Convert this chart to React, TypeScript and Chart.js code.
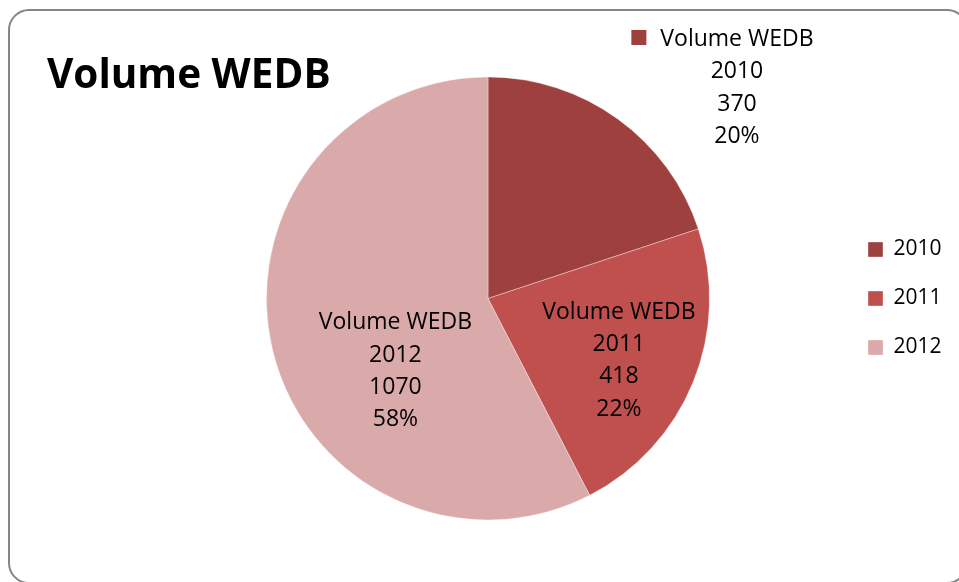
import React, { useEffect, useRef } from "react";
import { Chart, registerables } from "chart.js";

Chart.register(...registerables);

const chartTitle = "Volume WEDB";
const seriesName = "Volume WEDB";
const categories = ["2010", "2011", "2012"];
const values = [370, 418, 1070];
const sliceColors = ["#9E413E", "#C0504D", "#DAA9A9"];

const FONT = '"Open Sans", "Noto Sans", sans-serif';

// label placement relative to the pie centre, in units of the pie radius
const labelPlacement = [
  { dx: 1.124, dy: -1.14, key: true },
  { dx: 0.591, dy: 0.091, key: false },
  { dx: -0.418, dy: 0.139, key: false },
];
const LABEL_SIZE = 23;
const LABEL_LINE = 32.3;

const decorPlugin = {
  id: "decor",
  beforeDraw(chart: any) {
    const ctx = chart.ctx;
    ctx.save();
    ctx.fillStyle = "#ffffff";
    ctx.fillRect(0, 0, chart.width, chart.height);
    ctx.strokeStyle = "#868686";
    ctx.lineWidth = 2;
    ctx.beginPath();
    ctx.roundRect(9, 10, 958, 573, 20);
    ctx.stroke();
    ctx.fillStyle = "#000000";
    ctx.font = `bold 40.5px ${FONT}`;
    ctx.textAlign = "left";
    ctx.textBaseline = "alphabetic";
    ctx.fillText(chartTitle, 47, 88);
    ctx.restore();
  },
  afterDatasetsDraw(chart: any) {
    const ctx = chart.ctx;
    const meta = chart.getDatasetMeta(0);
    const ds = chart.data.datasets[0];
    const data = ds.data as number[];
    const total = data.reduce((a, b) => a + b, 0);
    ctx.save();
    ctx.font = `${LABEL_SIZE}px ${FONT}`;
    ctx.fillStyle = "#000000";
    ctx.textAlign = "center";
    ctx.textBaseline = "alphabetic";
    meta.data.forEach((arc: any, i: number) => {
      const { x, y, outerRadius } = arc.getProps(["x", "y", "outerRadius"], true);
      const p = labelPlacement[i];
      const cx = x + p.dx * outerRadius;
      const by = y + p.dy * outerRadius;
      const lines = [
        ds.label,
        String(chart.data.labels[i]),
        String(data[i]),
        Math.round((data[i] / total) * 100) + "%",
      ];
      lines.forEach((t, k) => {
        ctx.fillText(t, cx, by + k * LABEL_LINE);
      });
      if (p.key) {
        const w = ctx.measureText(lines[0]).width;
        const left = cx - w / 2;
        ctx.fillStyle = sliceColors[i];
        ctx.fillRect(left - 29, by - 16, 15, 15);
        ctx.fillStyle = "#000000";
      }
    });
    ctx.restore();
  },
};

export default function App() {
  const ref = useRef<HTMLCanvasElement | null>(null);
  useEffect(() => {
    if (!ref.current) return;
    const chart = new Chart(ref.current, {
      type: "pie",
      data: {
        labels: categories,
        datasets: [
          {
            label: seriesName,
            data: values,
            backgroundColor: sliceColors,
            borderColor: "rgba(255,255,255,0.35)",
            borderWidth: 1,
          },
        ],
      },
      options: {
        responsive: false,
        animation: false,
        devicePixelRatio: 1,
        layout: { padding: { left: 136, right: 14, top: 76.5, bottom: 61.5 } },
        plugins: {
          title: { display: false },
          tooltip: { enabled: false },
          legend: {
            display: true,
            position: "right",
            maxWidth: 105,
            labels: {
              boxWidth: 15,
              boxHeight: 15,
              padding: 28,
              color: "#000000",
              font: { family: FONT, size: 21 },
            },
          },
        },
      },
      plugins: [decorPlugin],
    });
    return () => chart.destroy();
  }, []);
  return (
    <div style={{ position: "fixed", left: 0, top: 0, width: 959, height: 582, background: "#fff" }}>
      <canvas ref={ref} width={959} height={582} style={{ display: "block", width: 959, height: 582 }} />
    </div>
  );
}
